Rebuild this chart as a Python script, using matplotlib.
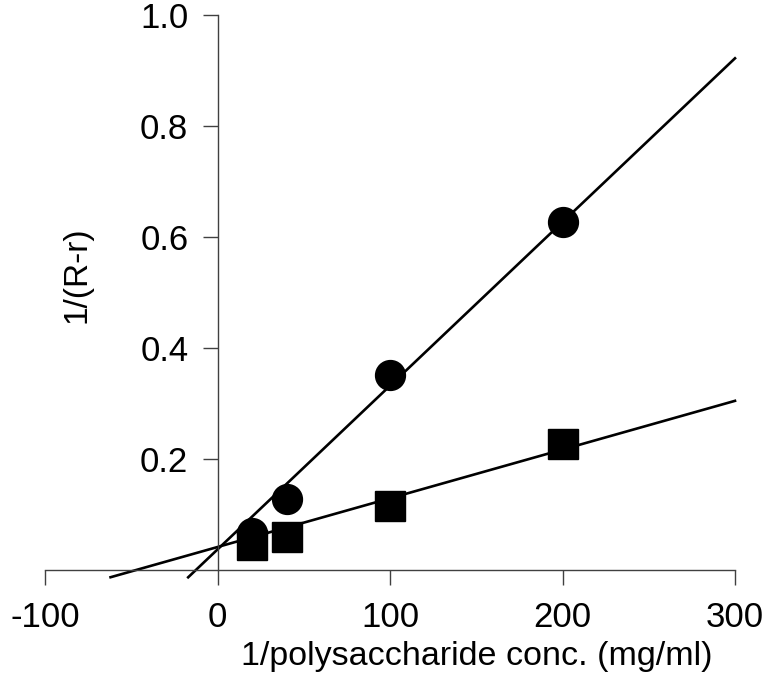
import matplotlib.pyplot as plt
import numpy as np

plt.rcParams['font.family'] = ['Liberation Sans', 'DejaVu Sans']

# data
conc_inv = [20, 40, 100, 200]
circle_y = [0.067, 0.128, 0.351, 0.627]
square_y = [0.045, 0.060, 0.115, 0.227]

# fitted lines (slope, intercept) and the x where each line starts
circle_fit = (0.00295, 0.037)
square_fit = (0.000878, 0.0414)
circle_x0 = -17
square_x0 = -62
x_end = 300

xticks = [-100, 0, 100, 200, 300]
yticks = [0.2, 0.4, 0.6, 0.8, 1.0]

fig = plt.figure(figsize=(7.67, 6.92), dpi=100)
ax = fig.add_axes([45 / 767, 122 / 692, 690 / 767, 555 / 692])

for fit, x0 in [(circle_fit, circle_x0), (square_fit, square_x0)]:
    xs = np.array([x0, x_end])
    ax.plot(xs, fit[0] * xs + fit[1], color='black', lw=1.9, clip_on=False)

ax.plot(conc_inv, circle_y, 'o', color='black', ms=21.5, clip_on=False)
ax.plot(conc_inv, square_y, 's', color='black', ms=21.5, clip_on=False)

ax.set_xlim(-100, 300)
ax.set_ylim(0, 1.0)
ax.set_xticks(xticks)
ax.set_xticklabels([str(t) for t in xticks])
ax.set_yticks(yticks)
ax.set_yticklabels([f'{t:.1f}' for t in yticks])

ax.spines['left'].set_position(('data', 0))
ax.spines['top'].set_visible(False)
ax.spines['right'].set_visible(False)
for s in ['left', 'bottom']:
    ax.spines[s].set_color('#404040')
    ax.spines[s].set_linewidth(1.0)

ax.tick_params(axis='both', direction='out', length=11, width=1.0,
               color='#404040', labelsize=25, labelcolor='black')
ax.tick_params(axis='x', pad=11)
ax.tick_params(axis='y', pad=10)

fig.text(477 / 767, 1 - 657 / 692, '1/polysaccharide conc. (mg/ml)',
         fontsize=24.5, ha='center', va='center')
fig.text(77 / 767, 1 - 275 / 692, '1/(R-r)', rotation=90, fontsize=24,
         ha='center', va='center')

fig.savefig('out.png', dpi=100)
